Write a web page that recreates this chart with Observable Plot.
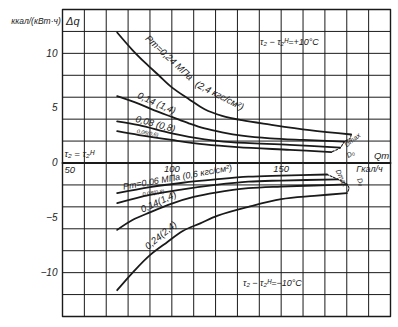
<!DOCTYPE html>
<html><head><meta charset="utf-8">
<script src="https://cdn.jsdelivr.net/npm/d3@7"></script>
<script src="https://cdn.jsdelivr.net/npm/@observablehq/plot@0.6"></script>
<style>body{margin:0;background:#fff} svg{display:block}</style>
</head><body><div id="chart"></div>
<script>
// ---- axis ticks ----
const xGridTicks = [50,60,70,80,90,100,110,120,130,140,150,160,170,180,190,200];
const yGridTicks = [-14,-12,-10,-8,-6,-4,-2,0,2,4,6,8,10,12,14];
const yTickValues = [10,5,0,-5,-10];
const yTickLabels = ["10","5","0","−5","−10"];
const xTickValues = [50,100,150];
const xTickLabels = ["50","100","150"];

// ---- curves, τ2 − τ2н = +10 °C ----
const qUp024  = [75,82,88,94,100,108,115,123,132,145,163,182];
const dqUp024 = [11.9,10.3,9.1,8.0,6.9,5.8,4.9,4.3,3.9,3.5,3.0,2.6];
const qUp014  = [75,85,92,100,108,115,123,132,145,160,179];
const dqUp014 = [6.1,5.4,4.8,4.2,3.6,3.15,2.8,2.5,2.25,2.1,1.95];
const qUp008  = [75,85,100,115,127,154,177];
const dqUp008 = [3.8,3.45,2.7,2.15,1.9,1.65,1.4];
const qUp006  = [75,85,100,115,130,154,173];
const dqUp006 = [2.9,2.55,2.1,1.7,1.45,1.2,1.0];
// ---- curves, τ2 − τ2н = −10 °C ----
const qLo024  = [75,82.5,90,98,105,113,121,135,150,165,180];
const dqLo024 = [-11.6,-9.9,-8.4,-7.2,-6.2,-5.5,-4.8,-4.0,-3.3,-3.0,-2.75];
const qLo014  = [75,82,90,100,110,120,135,150,165,180];
const dqLo014 = [-6.1,-5.2,-4.5,-3.7,-3.1,-2.7,-2.3,-2.15,-2.05,-1.95];
const qLo008  = [75,90,105,120,135,150,176];
const dqLo008 = [-3.65,-2.9,-2.4,-2.0,-1.7,-1.6,-1.5];
const qLo006  = [75,90,105,120,135,150,171];
const dqLo006 = [-2.75,-2.2,-1.8,-1.5,-1.25,-1.15,-1.05];
// ---- D boundary (Dmax … D0) ----
const qBoundUp  = [182,181.5,179,177,173];
const dqBoundUp = [2.6,2.25,1.95,1.4,1.0];
const qBoundLo  = [171,176,180,181,180];
const dqBoundLo = [-1.05,-1.5,-1.95,-2.3,-2.75];

const seriesQ  = [qUp024,qUp014,qUp008,qUp006,qLo024,qLo014,qLo008,qLo006];
const seriesDq = [dqUp024,dqUp014,dqUp008,dqUp006,dqLo024,dqLo014,dqLo008,dqLo006];
const seriesNames = ["up0.24","up0.14","up0.08","up0.06","lo0.24","lo0.14","lo0.08","lo0.06"];

const curves = seriesNames.flatMap((s,i)=>seriesQ[i].map((q,j)=>({s,q,dq:seriesDq[i][j]})));
const bounds = [
  ...qBoundUp.map((q,j)=>({s:"up",q,dq:dqBoundUp[j]})),
  ...qBoundLo.map((q,j)=>({s:"lo",q,dq:dqBoundLo[j]}))
];

// grid lines built from the tick arrays (drawn through the scales)
const xMin = xGridTicks[0], xMax = xGridTicks[xGridTicks.length-1];
const yMin = yGridTicks[0], yMax = yGridTicks[yGridTicks.length-1];
const gridRows = [
  ...xGridTicks.flatMap(x=>[{g:"x"+x,q:x,dq:yMin},{g:"x"+x,q:x,dq:yMax}]),
  ...yGridTicks.flatMap(y=>[{g:"y"+y,q:xMin,dq:y},{g:"y"+y,q:xMax,dq:y}])
];
const frameRows = [{q:xMin,dq:yMin},{q:xMax,dq:yMin},{q:xMax,dq:yMax},{q:xMin,dq:yMax},{q:xMin,dq:yMin}];
const zeroRows = [{q:xMin,dq:0},{q:xMax,dq:0}];

// ---- annotation texts ----
const labelTexts = [
  "Pт=0,24 МПа","(2,4 кгс/см²)","0,14 (1,4)","0,08 (0,8)","0,06(0,6)",
  "Pт=0,06 МПа (0,6 кгс/см²)","0,08(0,8)","0,14(1,4)","0,24(2,4)",
  "Dmax","D₀","Dmax","D₀",
  "τ₂ − τ₂ᴴ=+10°C","τ₂ − τ₂ᴴ=−10°C","τ₂ = τ₂ᴴ",
  "Qт","Гкал/ч","Δq","ккал/(кВт·ч)"
];
// layout for the annotations: x, y (data units), angle, font size, anchor
const labelLayout = [
  [98.8,9.6,43,9.5,"middle"],[121.8,6.15,27,9.5,"middle"],[93,5.45,24,9.5,"middle"],
  [92.5,3.55,15,9.5,"middle"],[88.9,2.72,10,5.5,"middle"],
  [102.6,-1.3,-10,9,"middle"],[91.6,-2.72,-8,5.5,"middle"],[93.9,-3.55,-25,9.5,"middle"],
  [95,-6.6,-40,9.5,"middle"],
  [182.6,2.1,-38,7,"middle"],[181.7,0.82,-30,7,"middle"],[177.6,-1.37,65,7,"middle"],[186.3,-1.73,70,7,"middle"],
  [153.8,11.04,0,9,"middle"],[146,-10.95,0,9,"middle"],[50.9,0.85,0,9.5,"start"],
  [195.9,0.64,0,9.5,"middle"],[190.4,-0.58,0,9,"middle"],[54.7,12.95,0,11,"middle"],[49.2,12.9,0,8.5,"end"]
];
const labels = labelTexts.map((t,i)=>({t,x:labelLayout[i][0],y:labelLayout[i][1],r:labelLayout[i][2],fs:labelLayout[i][3],a:labelLayout[i][4]}));

const font = "'Liberation Sans Narrow','Liberation Sans','DejaVu Sans',sans-serif";
const ink = "#1a1a1a";
const labelMark = (anchor) => Plot.text(labels.filter(d=>d.a===anchor),
  {x:"x", y:"y", text:"t", rotate:"r", fontSize:"fs", textAnchor: anchor, fill: ink, fontStyle:"italic"});
const xTicks = xTickValues.map((v,i)=>({v,t:xTickLabels[i]}));

const chart = Plot.plot({
  width: 398, height: 327,
  marginLeft: 62, marginRight: 8, marginTop: 9, marginBottom: 11,
  x: {domain:[50,200], axis:null},
  y: {domain:[-14,14], axis:null},
  style: {fontFamily: font},
  marks: [
    Plot.line(gridRows, {x:"q", y:"dq", z:"g", stroke: ink, strokeWidth: 1}),
    Plot.line(zeroRows, {x:"q", y:"dq", stroke: ink, strokeWidth: 1.8}),
    Plot.line(frameRows, {x:"q", y:"dq", stroke: ink, strokeWidth: 1.4}),
    Plot.line(curves, {x:"q", y:"dq", z:"s", curve:"catmull-rom", stroke: ink, strokeWidth: 1.8}),
    Plot.line(bounds, {x:"q", y:"dq", z:"s", curve:"catmull-rom", stroke: ink, strokeWidth: 1.1, strokeDasharray:"2,1.5"}),
    Plot.text(yTickValues, {x: 47.7, y: d=>d, text: (d,i)=>yTickLabels[i], textAnchor:"end", fontSize: 10, fill: ink, fontStyle:"italic"}),
    Plot.text(xTicks.slice(0,1), {x:"v", y: -0.6, text:"t", textAnchor:"start", dx: 2, fontSize: 9.5, fill: ink, fontStyle:"italic"}),
    Plot.text(xTicks.slice(1), {x:"v", y: -0.5, text:"t", fontSize: 9.5, fill: ink, fontStyle:"italic"}),
    labelMark("middle"), labelMark("start"), labelMark("end")
  ]
});
document.getElementById("chart").append(chart);
</script>
</body></html>
